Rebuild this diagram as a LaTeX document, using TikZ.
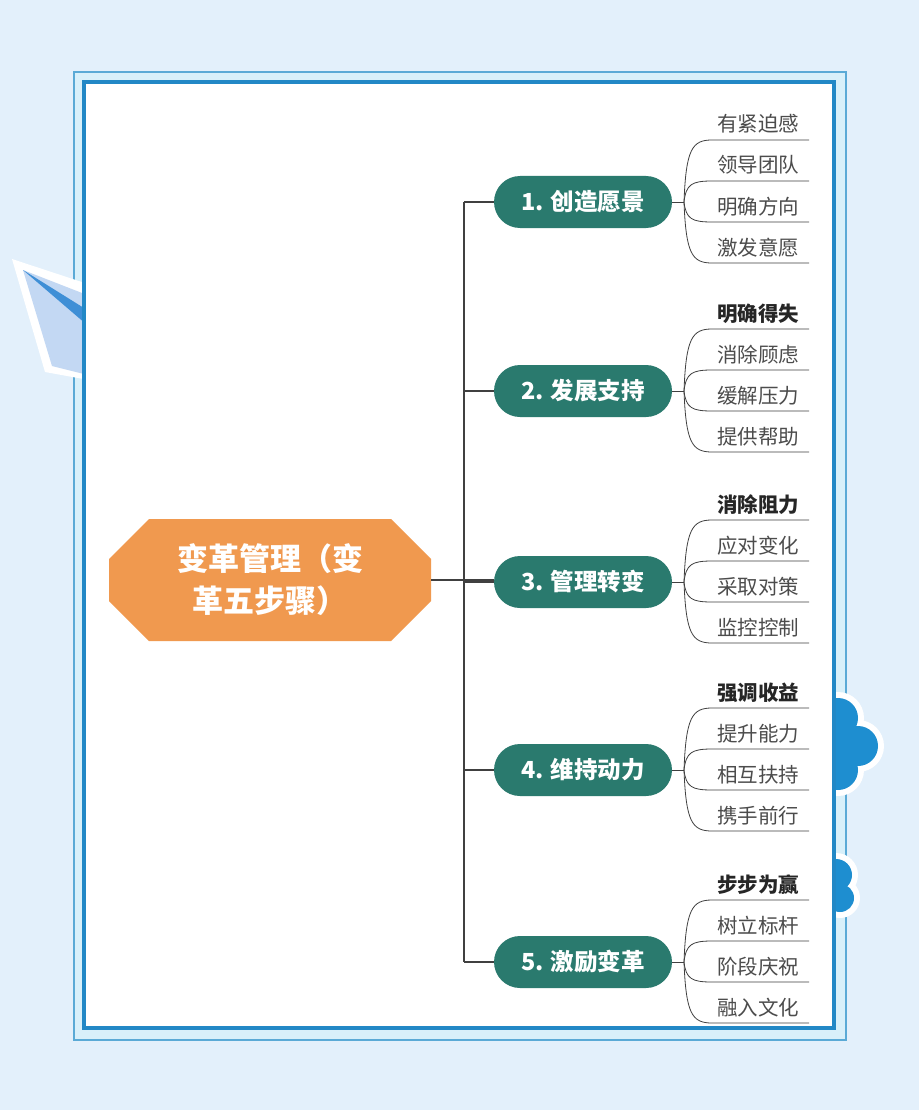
\documentclass[tikz,border=0pt]{standalone}
\usepackage{fontspec}
\setmainfont{Noto Sans CJK SC}
\definecolor{bgblue}{HTML}{E3F0FB}
\definecolor{framelight}{HTML}{5AAAD6}
\definecolor{framedark}{HTML}{2288C6}
\definecolor{cyanfill}{HTML}{D8F0FA}
\definecolor{orangec}{HTML}{F0994F}
\definecolor{tealc}{HTML}{2A7A6E}
\definecolor{planelight}{HTML}{C3D8F3}
\definecolor{planedark}{HTML}{3F8FD6}
\definecolor{blobblue}{HTML}{1E8ED0}
\usetikzlibrary{shapes.misc}
\tikzset{
  pill/.style={rounded corners=26pt,fill=tealc,text=white,minimum width=178pt,minimum height=52pt,inner sep=0pt,font=\fontsize{23.5}{25}\selectfont\bfseries},
  leaf/.style={text=black!70,font=\fontsize{20.5}{22}\selectfont,anchor=base,inner sep=0pt},
  leafb/.style={text=black!85,font=\fontsize{20.5}{22}\selectfont\bfseries,anchor=base,inner sep=0pt},
  ln/.style={draw=black!75,line width=0.8pt},
}
\begin{document}
\begin{tikzpicture}[x=1pt,y=-1pt]
\fill[bgblue] (0,0) rectangle (919,1110);
\useasboundingbox (0,0) rectangle (919,1110);
% frame band
\fill[cyanfill] (74,72) rectangle (846,1040);
\draw[framelight,line width=2pt] (74,72) rectangle (846,1040);
% paper plane
\fill[white] (12,259) -- (100,288) -- (100,382) -- (45,372) -- cycle;
\fill[planelight] (23,270) -- (100,300) -- (100,378) -- (52,366) -- cycle;
\fill[planedark] (23,270) -- (100,318) -- (100,336) -- cycle;
% blobs
\foreach \cx/\cy/\r in {838/718/20,858/746/20,838/770/20,830/745/22}{\fill[white] (\cx,\cy) circle (\r+6);}
\foreach \cx/\cy/\r in {838/718/20,858/746/20,838/770/20,830/745/22}{\fill[blobblue] (\cx,\cy) circle (\r);}
\foreach \cx/\cy/\r in {836/875/16,840/898/14,828/888/18}{\fill[white] (\cx,\cy) circle (\r+6);}
\foreach \cx/\cy/\r in {836/875/16,840/898/14,828/888/18}{\fill[blobblue] (\cx,\cy) circle (\r);}
% panel
\fill[white] (84,82) rectangle (834,1028);
\draw[framedark,line width=4pt] (84,82) rectangle (834,1028);
% center
\node[chamfered rectangle,chamfered rectangle xsep=20pt,chamfered rectangle ysep=20pt,fill=orangec,text=white,minimum width=322pt,minimum height=122pt,inner sep=0pt,align=center,font=\fontsize{31}{42}\selectfont\bfseries] (c) at (270,580) {变革管理（变\\革五步骤）};
\coordinate (tt) at (464,202);
\coordinate (tb) at (464,962);
\draw[ln,line width=1.2pt] (tt) -- (tb);
\coordinate (tm) at (464,580);
\draw[ln,line width=1.2pt] (c.east) -- (tm) -- (494,580);
\foreach \i/\y/\t/\a/\b/\c/\d/\bold in {
 1/202/1. 创造愿景/有紧迫感/领导团队/明确方向/激发意愿/0,
 2/391/2. 发展支持/明确得失/消除顾虑/缓解压力/提供帮助/1,
 3/582/3. 管理转变/消除阻力/应对变化/采取对策/监控控制/1,
 4/770/4. 维持动力/强调收益/提升能力/相互扶持/携手前行/1,
 5/962/5. 激励变革/步步为赢/树立标杆/阶段庆祝/融入文化/1}{
  \node[pill] (b\i) at (583,\y) {\t};
  \coordinate (s\i) at (464,\y);
  \draw[ln,line width=1.2pt] (s\i) -- (b\i.west);
  \coordinate (k\i) at (684,\y);
  \draw[ln] (b\i.east) -- (k\i);
  \ifnum\bold=1
    \node[leafb] (l\i a) at (758,\y-70) {\a};
  \else
    \node[leaf] (l\i a) at (758,\y-70) {\a};
  \fi
  \node[leaf] (l\i b) at (758,\y-29) {\b};
  \node[leaf] (l\i c) at (758,\y+12) {\c};
  \node[leaf] (l\i d) at (758,\y+53) {\d};
  \foreach \dd in {-62,-21,20,61}{
    \draw[ln] (k\i) .. controls (686,\y+0.85*\dd) and (692,\y+\dd) .. (712,\y+\dd) -- (809,\y+\dd);
  }
}
\end{tikzpicture}
\end{document}
